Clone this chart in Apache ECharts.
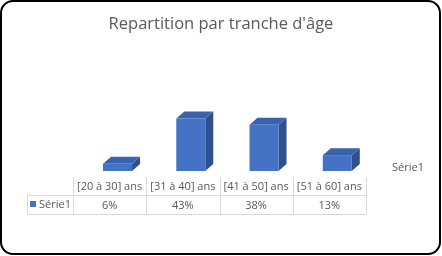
<!DOCTYPE html>
<html><head><meta charset="utf-8">
<script src="https://cdn.jsdelivr.net/npm/echarts@6/dist/echarts.min.js"></script>
<style>html,body{margin:0;padding:0;background:#fff}#c{width:442px;height:256px}</style>
</head><body><div id="c"></div>
<script>
const titleText = "Repartition par tranche d'âge";
const seriesName = "Série1";
const categories = ["[20 à 30] ans", "[31 à 40] ans", "[41 à 50] ans", "[51 à 60] ans"];
const values = [6, 43, 38, 13];
const valueLabels = ["6%", "43%", "38%", "13%"];

const FONT = "Open Sans";
const TXT = "#595959";
const LINE = "#D9D9D9";
const chart = echarts.init(document.getElementById('c'), null, {renderer: 'canvas'});

function barItem(params, api) {
  const i = api.value(0);
  const c0 = api.coord([i, 0]);
  const c1 = api.coord([i, api.value(1)]);
  const bw = api.size([1, 0])[0];
  const w = bw * 0.396;
  const x0 = c0[0] - bw * 0.09;
  const x1 = x0 + w;
  const yb = c0[1], yt = c1[1];
  const dx = 8, dy = 7;
  return {type: 'group', children: [
    {type: 'polygon', shape: {points: [[x1, yb], [x1 + dx, yb - dy], [x1 + dx, yt - dy], [x1, yt]]},
     style: {fill: '#2E508E'}},
    {type: 'polygon', shape: {points: [[x0, yt], [x0 + dx, yt - dy], [x1 + dx, yt - dy], [x1, yt]]},
     style: {fill: '#3A63AD'}},
    {type: 'rect', shape: {x: x0, y: yt, width: w, height: yb - yt}, style: {fill: '#4472C4'}}
  ]};
}

function tableItem(params, api) {
  const i = api.value(0);
  const c0 = api.coord([i, 0]);
  const bw = api.size([1, 0])[0];
  const xl = c0[0] - bw / 2, xr = c0[0] + bw / 2;
  const y0 = c0[1] + 6, y1 = y0 + 18, y2 = y1 + 19;
  const ls = {stroke: LINE, lineWidth: 1};
  return {type: 'group', children: [
    {type: 'line', shape: {x1: Math.round(xl) + 0.5, y1: y0, x2: Math.round(xl) + 0.5, y2: y2}, style: ls},
    {type: 'line', shape: {x1: Math.round(xr) + 0.5, y1: y0, x2: Math.round(xr) + 0.5, y2: y2}, style: ls},
    {type: 'line', shape: {x1: xl, y1: y1 + 0.5, x2: xr, y2: y1 + 0.5}, style: ls},
    {type: 'line', shape: {x1: xl, y1: y2 + 0.5, x2: xr, y2: y2 + 0.5}, style: ls},
    {type: 'text', style: {x: c0[0], y: (y0 + y1) / 2 + 1, text: categories[i], fill: TXT,
      font: '11px "' + FONT + '"', align: 'center', verticalAlign: 'middle'}},
    {type: 'text', style: {x: c0[0], y: (y1 + y2) / 2 + 1, text: valueLabels[i], fill: TXT,
      font: '11px "' + FONT + '"', align: 'center', verticalAlign: 'middle'}}
  ]};
}

const data = values.map((v, i) => [i, v]);

chart.setOption({
  animation: false,
  title: {text: titleText, left: 'center', top: 11,
    textStyle: {fontFamily: FONT, fontSize: 16.5, fontWeight: 'normal', color: TXT}},
  grid: {left: 73, right: 76, top: 110, bottom: 85},
  xAxis: {type: 'category', data: categories, show: false},
  yAxis: {type: 'value', min: 0, max: 50, show: false},
  series: [
    {type: 'custom', name: seriesName, renderItem: barItem, data: data, clip: false},
    {type: 'custom', renderItem: tableItem, data: data, clip: false, silent: true}
  ],
  graphic: [
    {type: 'rect', shape: {x: 1, y: 1, width: 439, height: 253, r: 12},
     style: {fill: 'none', stroke: '#000', lineWidth: 2}},
    {type: 'line', shape: {x1: 27.5, y1: 195, x2: 27.5, y2: 214}, style: {stroke: LINE, lineWidth: 1}},
    {type: 'line', shape: {x1: 27, y1: 195.5, x2: 73, y2: 195.5}, style: {stroke: LINE, lineWidth: 1}},
    {type: 'line', shape: {x1: 27, y1: 214.5, x2: 73, y2: 214.5}, style: {stroke: LINE, lineWidth: 1}},
    {type: 'rect', shape: {x: 30, y: 201, width: 6, height: 6}, style: {fill: '#4472C4'}},
    {type: 'text', style: {x: 39, y: 205, text: seriesName, fill: TXT, font: '11px "' + FONT + '"', verticalAlign: 'middle'}},
    {type: 'text', style: {x: 392, y: 168, text: seriesName, fill: TXT, font: '11px "' + FONT + '"', verticalAlign: 'middle'}}
  ]
});
</script></body></html>
